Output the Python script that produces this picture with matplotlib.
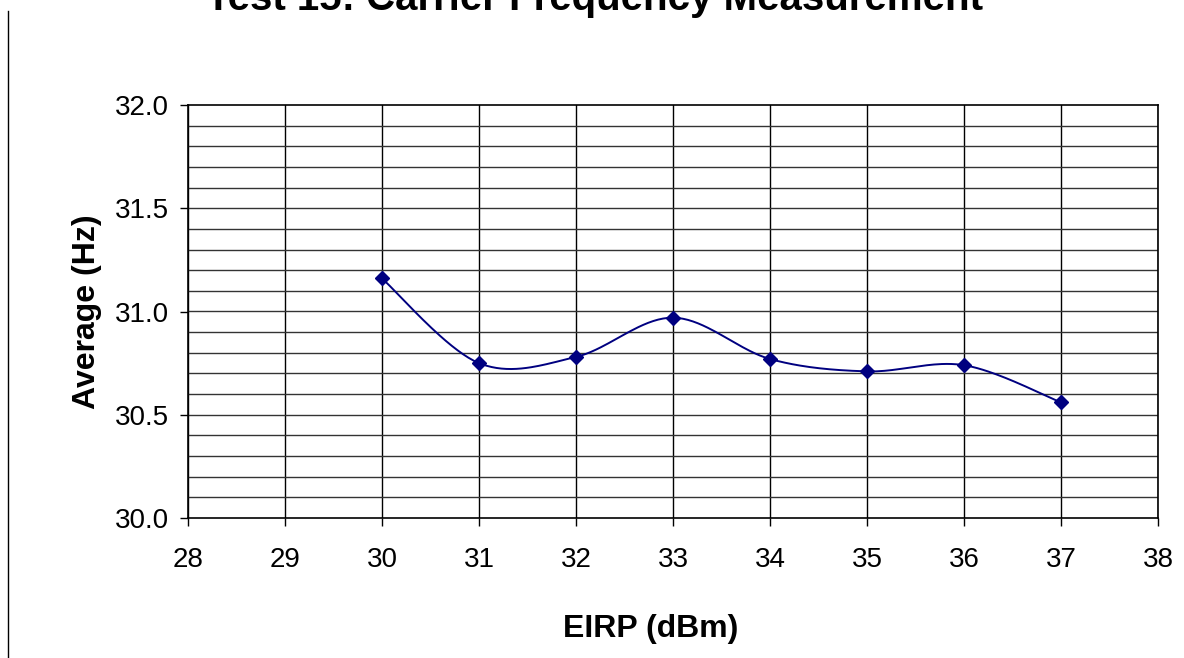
import numpy as np
import matplotlib
matplotlib.use("Agg")
import matplotlib.pyplot as plt
from matplotlib.lines import Line2D

# Data
eirp_dbm = [30, 31, 32, 33, 34, 35, 36, 37]
average_hz = [31.16, 30.75, 30.78, 30.97, 30.77, 30.71, 30.74, 30.56]
x_ticks = [28, 29, 30, 31, 32, 33, 34, 35, 36, 37, 38]
y_ticks = [30.0, 30.5, 31.0, 31.5, 32.0]

title = "Test 15: Carrier Frequency Measurement"
x_label = "EIRP (dBm)"
y_label = "Average (Hz)"


def excel_smooth(xs, ys, n=40):
    """Cubic Bezier smoothing through the points (Excel-style smoothed line)."""
    pts = np.column_stack([xs, ys]).astype(float)
    out = []
    m = len(pts)
    for i in range(m - 1):
        p0 = pts[i - 1] if i > 0 else pts[i]
        p1 = pts[i]
        p2 = pts[i + 1]
        p3 = pts[i + 2] if i + 2 < m else pts[i + 1]
        c1 = p1 + (p2 - p0) / 6.0
        c2 = p2 - (p3 - p1) / 6.0
        t = np.linspace(0, 1, n)[:, None]
        seg = ((1 - t) ** 3) * p1 + 3 * ((1 - t) ** 2) * t * c1 + 3 * (1 - t) * t ** 2 * c2 + t ** 3 * p2
        out.append(seg if i == 0 else seg[1:])
    out = np.vstack(out)
    return out[:, 0], out[:, 1]


plt.rcParams['font.family'] = ['Liberation Sans', 'DejaVu Sans']

W, H = 1184, 658
fig = plt.figure(figsize=(W / 100, H / 100), dpi=100)
fig.patch.set_facecolor('white')

ax = fig.add_axes([188 / W, 1 - 518 / H, (1158 - 188) / W, (518 - 105) / H])

# grid
ax.set_xlim(28, 38)
ax.set_ylim(30.0, 32.0)
for xv in x_ticks:
    ax.axvline(xv, color='black', lw=1.0, zorder=1)
for yv in np.arange(30.1, 32.0, 0.1):
    ax.axhline(yv, color='#333333', lw=1.0, zorder=1)

sx, sy = excel_smooth(eirp_dbm, average_hz)
ax.plot(sx, sy, color='#000080', lw=1.4, zorder=3)
ax.plot(eirp_dbm, average_hz, linestyle='none', marker='D', markersize=7.5,
        color='#000080', zorder=4)

ax.set_xticks(x_ticks)
ax.set_xticklabels([str(v) for v in x_ticks])
ax.set_yticks(y_ticks)
ax.set_yticklabels([f"{v:.1f}" for v in y_ticks])
ax.tick_params(axis='both', direction='out', length=6, width=1.0, labelsize=20, colors='black')
ax.tick_params(axis='y', pad=8)
ax.tick_params(axis='x', pad=15)

for s in ax.spines.values():
    s.set_color('black')
    s.set_linewidth(1.2)

ax.set_xlabel(x_label, fontsize=23, fontweight='bold')
ax.xaxis.set_label_coords(0.477, -0.232)
ax.set_ylabel(y_label, fontsize=23, fontweight='bold')
ax.yaxis.set_label_coords(-0.0887, 0.5)

fig.text(594 / W, 1 - 10 / H, title, ha='center', va='baseline', fontsize=29, fontweight='bold')

# chart border fragment at left
fig.add_artist(Line2D([8 / W, 8 / W], [0, 1 - 11 / H], transform=fig.transFigure, color='black', lw=1.0))

fig.savefig("out.png", dpi=100, facecolor='white')
